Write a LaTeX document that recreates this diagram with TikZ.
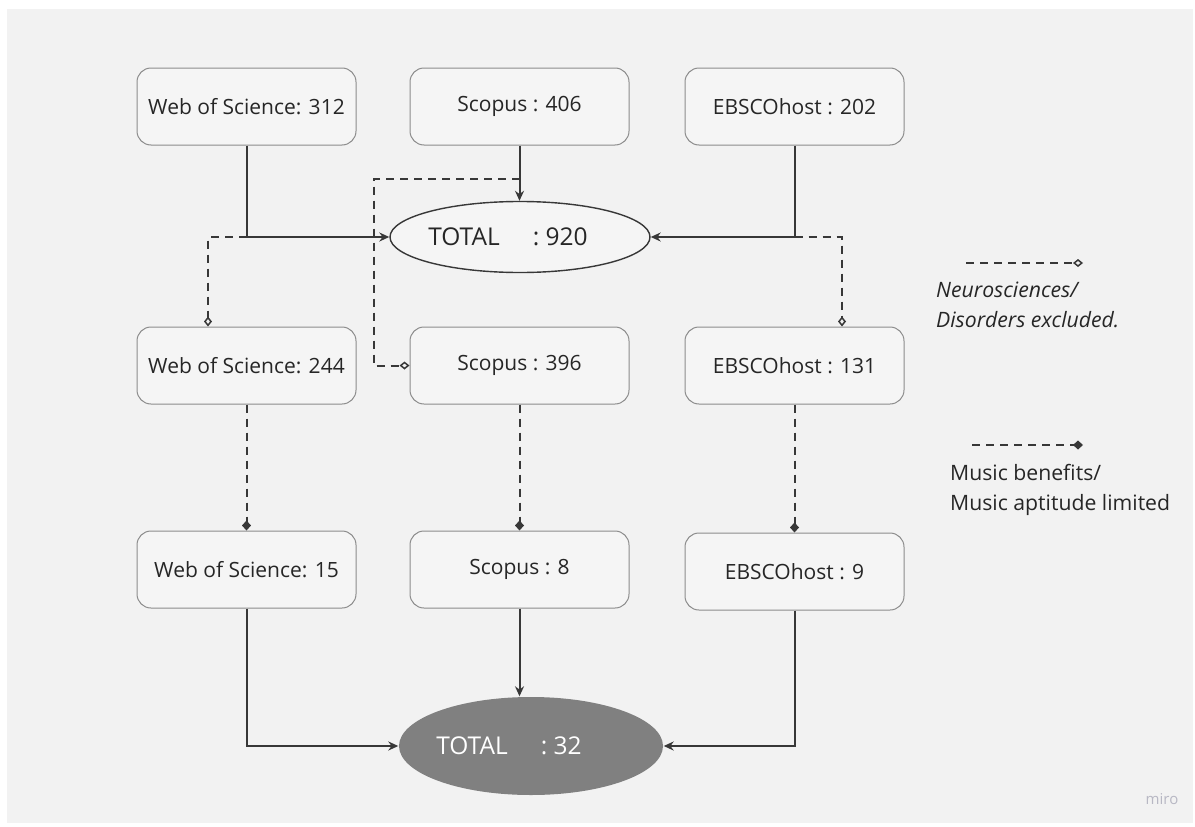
\documentclass[tikz,border=0pt]{standalone}
\usepackage{fontspec}
\setmainfont{Open Sans}
\usepackage{xcolor}
\usetikzlibrary{positioning, arrows.meta, shapes.geometric}

\definecolor{bggray}{HTML}{F2F2F2}
\definecolor{boxfill}{HTML}{F5F5F5}
\definecolor{boxline}{HTML}{8C8C8C}
\definecolor{lin}{HTML}{383838}
\definecolor{txt}{HTML}{262626}
\definecolor{darkfill}{HTML}{808080}
\definecolor{mirogray}{HTML}{B8B8C4}

\begin{document}
\begin{tikzpicture}[
      x=1pt, y=-1pt,
      node distance=181pt and 53pt,
      box/.style={draw=boxline, line width=1pt, rounded corners=14pt, fill=boxfill, text=txt,
        minimum width=219pt, minimum height=77pt, inner sep=0pt, font=\fontsize{21}{24}\selectfont},
      total/.style={ellipse, draw=lin, line width=1.4pt, fill=boxfill, inner sep=0pt,
        minimum width=260pt, minimum height=71pt},
      totalfin/.style={total, draw=none, fill=darkfill, minimum width=264pt, minimum height=98pt},
      totlbl/.style={text=#1, inner sep=0pt, font=\fontsize{24.5}{28}\selectfont},
      legtext/.style={align=left, text=txt, inner sep=0pt, font=\fontsize{21.2}{30}\selectfont},
      arr/.style={draw=lin, line width=2pt, -{Stealth[length=10pt, width=9pt]}},
      excl/.style={draw=lin, line width=2pt, dash pattern=on 8pt off 6pt, -{Diamond[open, length=10pt, width=8pt, line width=1.5pt]}},
      lim/.style={draw=lin, line width=2pt, dash pattern=on 8pt off 6pt, -{Diamond[length=10pt, width=9pt]}}
    ]
    % canvas
    \useasboundingbox (0,0) rectangle (1195,827);
    \fill[bggray] (7,9) rectangle (1193,823);

    % identification
    \node[box] (wos1) at (246.5,106.5) {Web of Science: 312};
    \node[box, right=of wos1] (scop1) {Scopus : 406};
    \node[box, right=55pt of scop1] (ebsco1) {EBSCOhost : 202};
    \node[total, label={[totlbl=txt, xshift=-12pt]center:TOTAL\hspace{33pt}: 920}] (tot1) at (520,237) {};

    % screening
    \node[box, below=of wos1] (wos2) {Web of Science: 244};
    \node[box, below=of scop1] (scop2) {Scopus : 396};
    \node[box, below=of ebsco1] (ebsco2) {EBSCOhost : 131};

    % included
    \node[box, below=126pt of wos2] (wos3) {Web of Science: 15};
    \node[box, below=126pt of scop2] (scop3) {Scopus : 8};
    \node[box, below=128pt of ebsco2] (ebsco3) {EBSCOhost : 9};
    \node[totalfin, label={[totlbl=white, xshift=-22pt]center:TOTAL\hspace{33pt}: 32}] (tot2) at (531,746) {};

    % branch points
    \coordinate (wj) at (wos1.south |- tot1.west);
    \coordinate (sj) at ([yshift=-33pt]scop1.south);
    \coordinate (ej) at (ebsco1.south |- tot1.east);

    \draw[arr] (wos1.south) |- (tot1.west);
    \draw[arr] (scop1.south) -- (scop1.south |- tot1.north);
    \draw[arr] (ebsco1.south) |- (tot1.east);

    \draw[excl] (wj) -| ([xshift=-38.5pt]wos2.north);
    \draw[excl] (sj) -| ([xshift=-36pt]scop2.west) -- (scop2.west);
    \draw[excl] (ej) -| ([xshift=47.5pt]ebsco2.north);

    \draw[lim] (wos2) -- (wos3);
    \draw[lim] (scop2) -- (scop3);
    \draw[lim] (ebsco2.south) -- (ebsco2.south |- ebsco3.north);

    \draw[arr] (wos3.south) |- (tot2.west);
    \draw[arr] (scop3.south) -- (scop3.south |- tot2.north);
    \draw[arr] (ebsco3.south) |- (tot2.east);

    % legend
    \coordinate (lega) at (966,263);
    \coordinate (legb) at (1083,263);
    \draw[excl] (lega) -- (legb);
    \node[legtext, anchor=north west] (legt1) at (936,282) {\itshape Neurosciences/\\\itshape Disorders excluded.};
    \coordinate (legc) at (972,445);
    \coordinate (legd) at (1083,445);
    \draw[lim] (legc) -- (legd);
    \node[legtext, anchor=north west] (legt2) at (950,464) {Music benefits/\\Music aptitude limited};

    \node[text=mirogray, font=\fontsize{15}{17}\selectfont] (miro) at (1162,799) {miro};
  \end{tikzpicture}
\end{document}
